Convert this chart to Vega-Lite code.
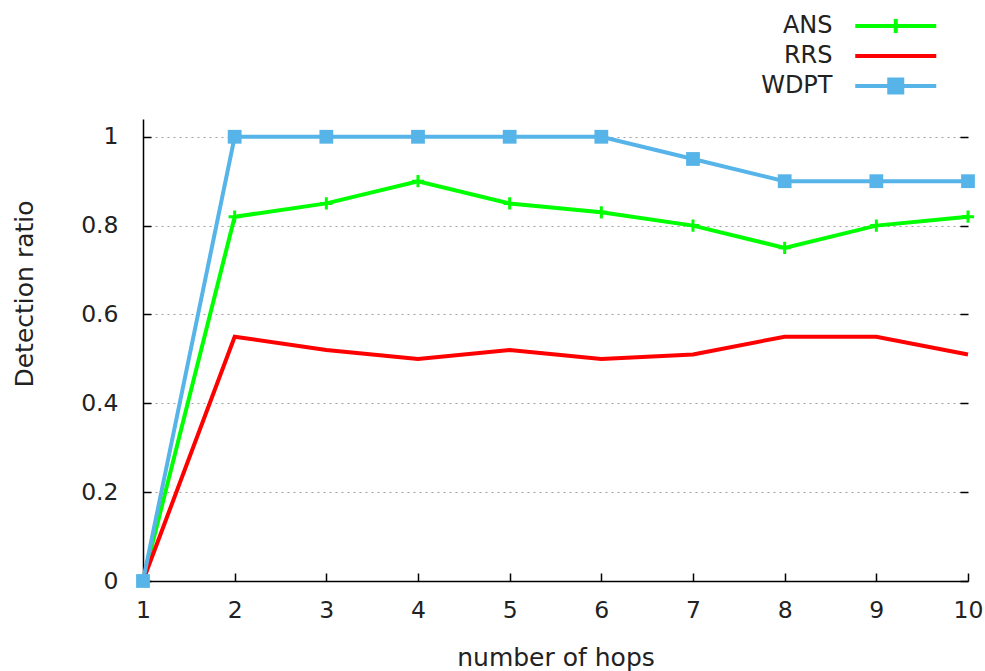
{
  "$schema": "https://vega.github.io/schema/vega-lite/v6.json",
  "width": 825,
  "height": 462,
  "autosize": "none",
  "padding": {"left": 143, "top": 119, "right": 17, "bottom": 90},
  "background": "white",
  "config": {
    "font": "DejaVu Sans",
    "view": {"stroke": null},
    "axis": {
      "labelFont": "DejaVu Sans",
      "titleFont": "DejaVu Sans",
      "labelFontSize": 23.5,
      "titleFontSize": 25,
      "labelColor": "#222222",
      "titleColor": "#222222",
      "titleFontWeight": "normal",
      "domainColor": "#000000",
      "tickColor": "#000000",
      "domainWidth": 1.5,
      "tickWidth": 1.5,
      "gridColor": "#a0a0a0",
      "gridDash": [2, 4],
      "gridWidth": 1.2,
      "labelFlush": false,
      "labelOverlap": false
    }
  },
  "data": {
    "values": [
      {"hops": 1, "series": "ANS", "ratio": 0},
      {"hops": 2, "series": "ANS", "ratio": 0.82},
      {"hops": 3, "series": "ANS", "ratio": 0.85},
      {"hops": 4, "series": "ANS", "ratio": 0.9},
      {"hops": 5, "series": "ANS", "ratio": 0.85},
      {"hops": 6, "series": "ANS", "ratio": 0.83},
      {"hops": 7, "series": "ANS", "ratio": 0.8},
      {"hops": 8, "series": "ANS", "ratio": 0.75},
      {"hops": 9, "series": "ANS", "ratio": 0.8},
      {"hops": 10, "series": "ANS", "ratio": 0.82},
      {"hops": 1, "series": "RRS", "ratio": 0},
      {"hops": 2, "series": "RRS", "ratio": 0.55},
      {"hops": 3, "series": "RRS", "ratio": 0.52},
      {"hops": 4, "series": "RRS", "ratio": 0.5},
      {"hops": 5, "series": "RRS", "ratio": 0.52},
      {"hops": 6, "series": "RRS", "ratio": 0.5},
      {"hops": 7, "series": "RRS", "ratio": 0.51},
      {"hops": 8, "series": "RRS", "ratio": 0.55},
      {"hops": 9, "series": "RRS", "ratio": 0.55},
      {"hops": 10, "series": "RRS", "ratio": 0.51},
      {"hops": 1, "series": "WDPT", "ratio": 0},
      {"hops": 2, "series": "WDPT", "ratio": 1},
      {"hops": 3, "series": "WDPT", "ratio": 1},
      {"hops": 4, "series": "WDPT", "ratio": 1},
      {"hops": 5, "series": "WDPT", "ratio": 1},
      {"hops": 6, "series": "WDPT", "ratio": 1},
      {"hops": 7, "series": "WDPT", "ratio": 0.95},
      {"hops": 8, "series": "WDPT", "ratio": 0.9},
      {"hops": 9, "series": "WDPT", "ratio": 0.9},
      {"hops": 10, "series": "WDPT", "ratio": 0.9}
    ]
  },
  "resolve": {"axis": {"y": "independent"}},
  "layer": [
    {
      "mark": {"type": "line", "strokeWidth": 4, "clip": false},
      "encoding": {
        "x": {
          "field": "hops",
          "type": "quantitative",
          "scale": {"domain": [1, 10], "nice": false, "zero": false},
          "axis": {
            "values": [1, 2, 3, 4, 5, 6, 7, 8, 9, 10],
            "format": "d",
            "title": "number of hops",
            "grid": false,
            "tickSize": -8,
            "labelPadding": 25,
            "labelFlush": false,
            "titleBaseline": "alphabetic",
            "titleY": 84
          }
        },
        "y": {
          "field": "ratio",
          "type": "quantitative",
          "scale": {"domain": [0, 1.04], "nice": false},
          "axis": {
            "values": [0, 0.2, 0.4, 0.6, 0.8, 1],
            "format": "~g",
            "title": "Detection ratio",
            "grid": true,
            "tickSize": -8,
            "labelPadding": 33,
            "labelFlush": false,
            "titleBaseline": "middle",
            "titleX": -118.5,
            "titleY": 174.5
          }
        },
        "color": {
          "field": "series",
          "type": "nominal",
          "scale": {"domain": ["ANS", "RRS", "WDPT"], "range": ["#00ff00", "#ff0000", "#56b4e9"]},
          "legend": {
            "orient": "none",
            "legendX": 740.75,
            "legendY": -105,
            "title": null,
            "symbolSize": 400,
            "symbolStrokeWidth": 4,
            "labelFontSize": 24,
            "labelFont": "DejaVu Sans",
            "labelColor": "#222222",
            "labelAlign": "right",
            "labelOffset": -75.25,
            "rowPadding": 3,
            "encode": {
              "symbols": {
                "update": {
                  "shape": {"signal": "datum.value === 'ANS' ? 'M-4.05,0H4.05M0,-0.7V0.7' : (datum.value === 'WDPT' ? 'M-4.05,0H4.05M-0.65,-0.65H0.65V0.65H-0.65Z' : 'M-4.05,0H4.05')"},
                  "fill": {"signal": "datum.value === 'WDPT' ? '#56b4e9' : 'transparent'"},
                  "stroke": {"signal": "datum.value === 'ANS' ? '#00ff00' : (datum.value === 'WDPT' ? '#56b4e9' : '#ff0000')"},
                  "opacity": {"value": 1}
                }
              }
            }
          }
        }
      }
    },
    {
      "transform": [{"filter": "datum.series === 'ANS'"}],
      "mark": {"type": "point", "shape": "M-1,0H1M0,-1V1", "filled": false, "strokeWidth": 3, "size": 150, "color": "#00ff00", "opacity": 1, "clip": false},
      "encoding": {
        "x": {"field": "hops", "type": "quantitative"},
        "y": {"field": "ratio", "type": "quantitative", "axis": null}
      }
    },
    {
      "transform": [{"filter": "datum.series === 'WDPT'"}],
      "mark": {"type": "point", "shape": "square", "filled": true, "size": 190, "color": "#56b4e9", "opacity": 1, "clip": false},
      "encoding": {
        "x": {"field": "hops", "type": "quantitative"},
        "y": {
          "field": "ratio",
          "type": "quantitative",
          "axis": {
            "orient": "right",
            "values": [0, 0.2, 0.4, 0.6, 0.8, 1],
            "labels": false,
            "domain": false,
            "grid": false,
            "title": null,
            "tickSize": -8
          }
        }
      }
    }
  ]
}
